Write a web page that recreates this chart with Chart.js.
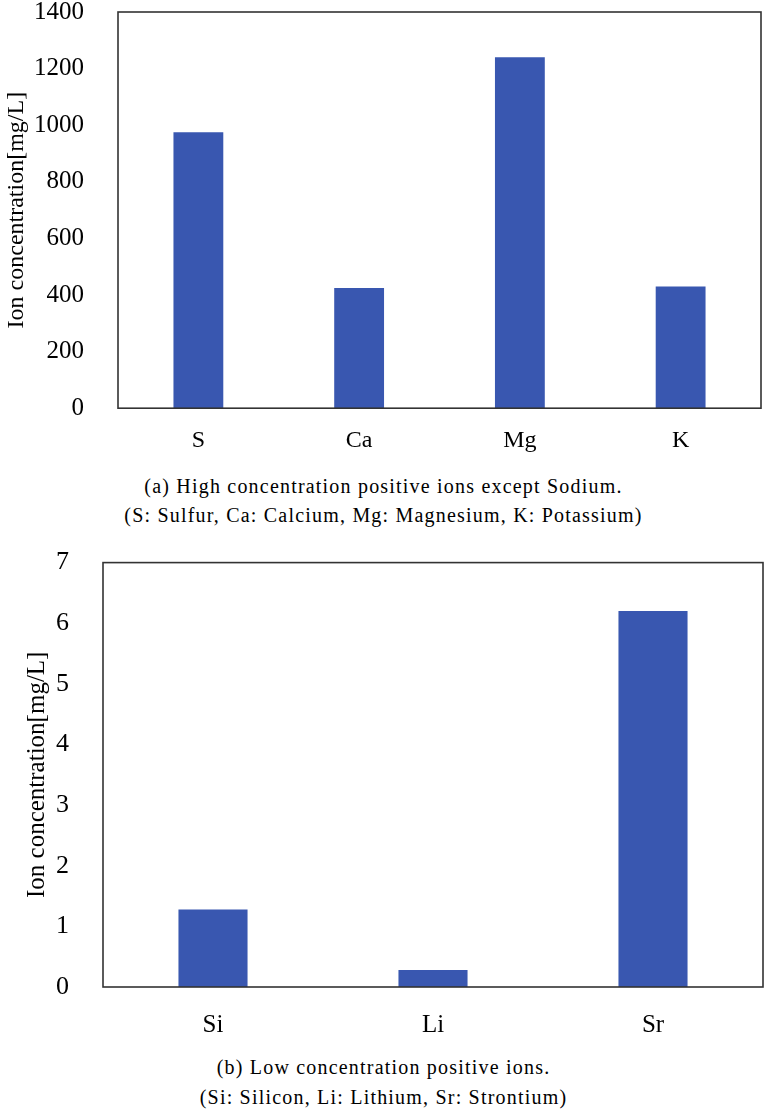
<!DOCTYPE html>
<html>
<head>
<meta charset="utf-8">
<script src="https://cdn.jsdelivr.net/npm/chart.js@4"></script>
<style>
  body { margin: 0; background: #fff; width: 767px; height: 1115px; position: relative; overflow: hidden; }
  .box { position: absolute; left: 0; width: 767px; }
  .cap { position: absolute; left: 0; width: 767px; text-align: center; font-family: "Liberation Serif", serif; font-size: 20px; letter-spacing: 1.2px; color: #000; }
</style>
</head>
<body>
<div class="box" id="topBox" style="top:-29px;height:494px"><canvas id="topChart"></canvas></div>
<div class="cap" style="top:475px">(a) High concentration positive ions except Sodium.</div>
<div class="cap" style="top:504px">(S: Sulfur, Ca: Calcium, Mg: Magnesium, K: Potassium)</div>
<div class="box" id="botBox" style="top:521px;height:534px"><canvas id="botChart"></canvas></div>
<div class="cap" style="top:1056px">(b) Low concentration positive ions.</div>
<div class="cap" style="top:1086px">(Si: Silicon, Li: Lithium, Sr: Strontium)</div>
<script>
const highIons = ['S', 'Ca', 'Mg', 'K']
const highValues = [975, 425, 1240, 430]
const lowIons = ['Si', 'Li', 'Sr']
const lowValues = [1.28, 0.28, 6.2]
const yTitle = 'Ion concentration[mg/L]'
const barColor = '#3957b0'
const serif = 'Liberation Serif'

// plot frame on all four sides, as in the original figure
const frame = {
  id: 'frame',
  afterDatasetsDraw(chart) {
    const { ctx, chartArea: a } = chart
    ctx.save()
    ctx.strokeStyle = '#333'
    ctx.lineWidth = 1.6
    ctx.strokeRect(a.left, a.top, a.right - a.left, a.bottom - a.top)
    ctx.restore()
  }
}

const makeChart = (id, labels, values, opts) => {
  return new Chart(document.getElementById(id), {
    type: 'bar',
    data: {
      labels: labels,
      datasets: [{
        data: values,
        backgroundColor: barColor,
        borderWidth: 0,
        categoryPercentage: 1,
        barPercentage: opts.barPct
      }]
    },
    options: {
      responsive: true,
      maintainAspectRatio: false,
      animation: false,
      layout: { padding: opts.padding },
      plugins: { legend: { display: false }, tooltip: { enabled: false } },
      scales: {
        x: {
          grid: { display: false },
          border: { display: false },
          ticks: { color: '#000', font: { family: serif, size: opts.xSize }, padding: opts.xPad }
        },
        y: {
          min: 0,
          max: opts.max,
          grid: { display: false },
          border: { display: false },
          afterFit: (scale) => { scale.width = opts.yWidth },
          ticks: {
            stepSize: opts.step,
            color: '#000',
            font: { family: serif, size: opts.ySize },
            padding: 26,
            callback: (v) => String(v)
          },
          title: {
            display: true,
            text: yTitle,
            color: '#000',
            font: { family: serif, size: opts.titleSize },
            padding: { top: opts.titlePad, bottom: 0 }
          }
        }
      }
    },
    plugins: [frame]
  })
}

makeChart('topChart', highIons, highValues, {
  barPct: 0.31, max: 1400, step: 200, yWidth: 118, ySize: 25, xSize: 24, xPad: 10,
  titleSize: 24, titlePad: 2, padding: { top: 0, right: 6, left: 0, bottom: 0 }
})

makeChart('botChart', lowIons, lowValues, {
  barPct: 0.314, max: 7, step: 1, yWidth: 103, ySize: 26, xSize: 25, xPad: 15,
  titleSize: 25, titlePad: 22, padding: { top: 0, right: 4, left: 0, bottom: 0 }
})
</script>
</body>
</html>
